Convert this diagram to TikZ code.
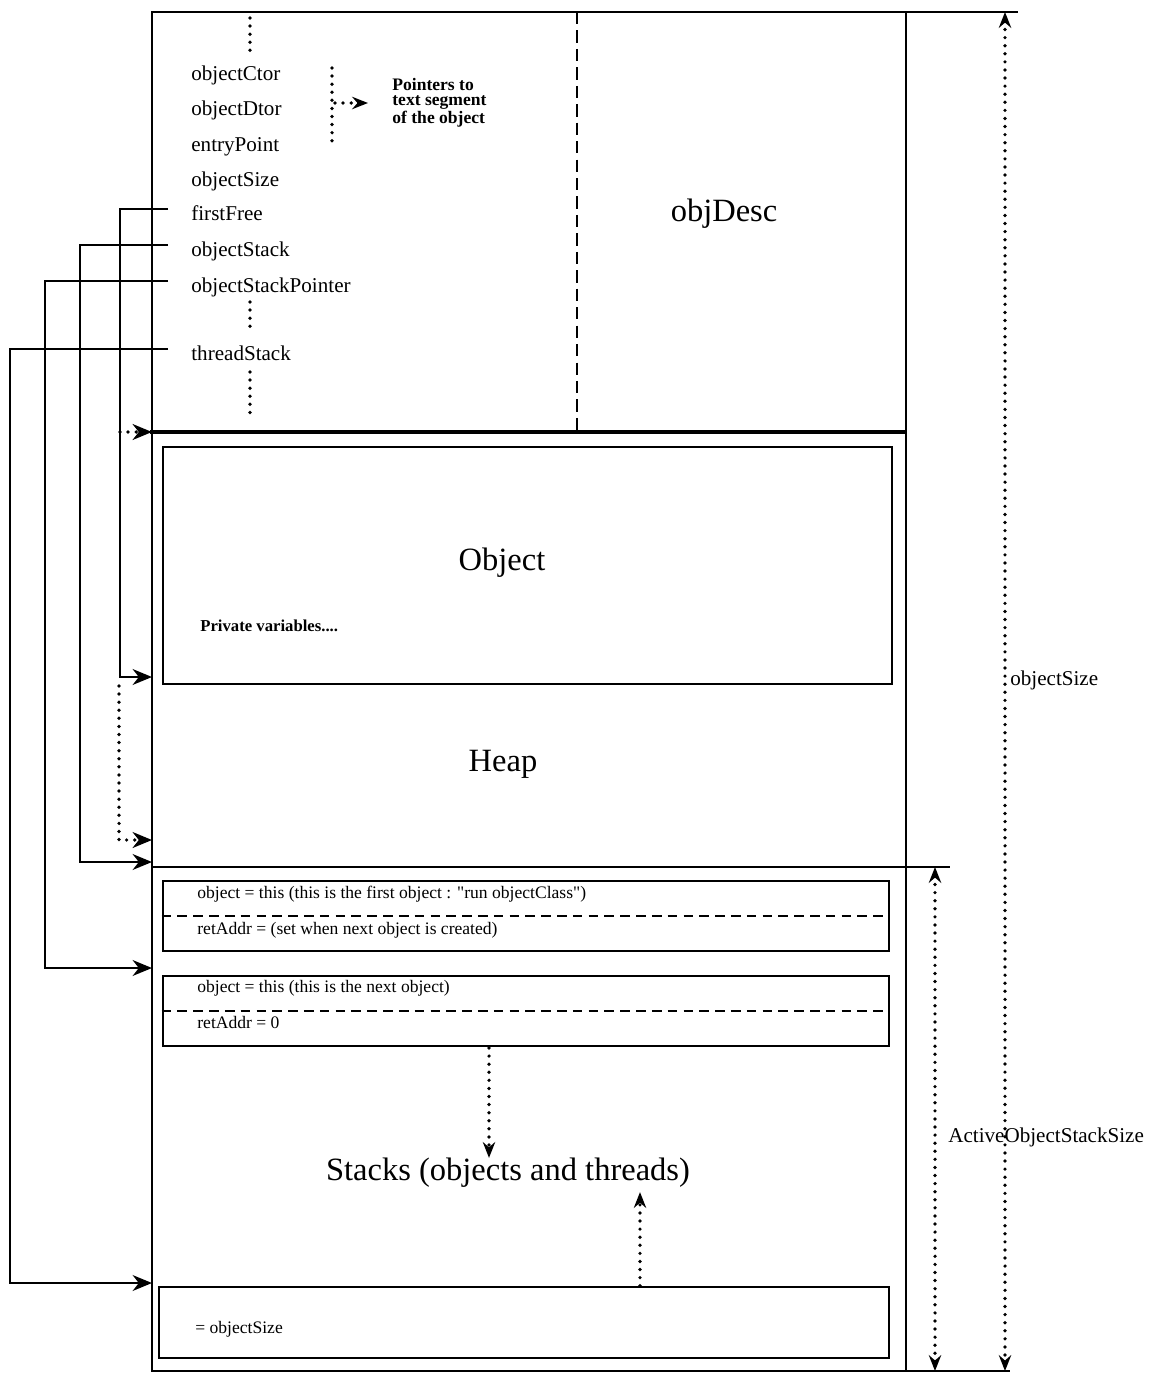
\documentclass[tikz,border=0pt]{standalone}
\usepackage{fontspec}
\setmainfont{Liberation Serif}
\newfontfamily\plainrm{Liberation Serif}
\usetikzlibrary{arrows.meta}
\begin{document}
\begin{tikzpicture}[x=0.02cm,y=-0.02cm,
  frame/.style={line width=1.5pt},
  thickline/.style={line width=2.6pt},
  box/.style={draw, line width=1.5pt, inner sep=0pt},
  fld/.style={anchor=base west, inner sep=0pt, font=\fontsize{12}{14}\selectfont},
  big/.style={inner sep=0pt, font=\fontsize{18.5}{22}\selectfont},
  small/.style={anchor=base west, inner sep=0pt, font=\fontsize{10}{12}\selectfont},
  dimlbl/.style={anchor=base west, inner sep=0pt, font=\fontsize{12}{14}\selectfont},
  dots/.style={line width=2.1pt, dash pattern=on 0pt off 4.6pt, line cap=round},
  sdash/.style={line width=1.3pt, dash pattern=on 5.5pt off 3.5pt},
  vdash/.style={line width=1.4pt, dash pattern=on 7pt off 3.5pt},
  tip/.style={-{Stealth[length=11pt,width=9pt,inset=3.5pt]}},
  smalltip/.style={-{Stealth[length=9pt,width=7pt,inset=3pt]}},
  ptr/.style={line width=1.3pt, tip},
  dimarr/.style={dots, {Stealth[length=9pt,width=7pt,inset=3pt]}-{Stealth[length=9pt,width=7pt,inset=3pt]}}
]
\useasboundingbox (0,0) rectangle (1157,1376);

% outer frame and dividers
\draw[frame] (152,12) rectangle (906,1371);
\draw[frame] (906,12) -- (1018,12);
\draw[frame] (906,1371) -- (1010,1371);
\draw[frame] (152,867) -- (950,867);
\draw[thickline] (150,432) -- (906,432);
\draw[vdash] (577,12) -- (577,432);

% field list
\node[fld] (fCtor)  at (191,80)  {objectCtor};
\node[fld] (fDtor)  at (191,115) {objectDtor};
\node[fld] (fEntry) at (191,151) {entryPoint};
\node[fld] (fSize)  at (191,186) {objectSize};
\node[fld] (fFree)  at (191,220) {firstFree};
\node[fld] (fStack) at (191,256) {objectStack};
\node[fld] (fSP)    at (191,292) {objectStackPointer};
\node[fld] (fThr)   at (191,360) {threadStack};

\draw[dots] (250,18) -- (250,52);
\draw[dots] (250,302) -- (250,332);
\draw[dots] (250,372) -- (250,420);

% pointers to text segment
\node[inner sep=0pt, anchor=west, align=left,
      font=\bfseries\fontsize{10}{8.8}\selectfont] (ptxt) at (392,103)
      {Pointers to\\text segment\\of the object};
\coordinate (brT) at (332,68);
\coordinate (brB) at (332,148);
\coordinate (brM) at (335,103);
\draw[dots] (brT) -- (brB);
\draw[dots, smalltip] (brM) -- ([xshift=-24*0.02cm]ptxt.west);

\node[big] (objdesc) at (724,214) {objDesc};

% object box and heap
\node[box, minimum width=729*0.02cm, minimum height=237*0.02cm] (objbox) at (527.5,565.5) {};
\node[big] (objlbl) at (502,563) {Object};
\node[small, font=\bfseries\fontsize{9.5}{11}\selectfont] (priv) at (200,631) {Private variables....};
\node[big] (heap) at (503,764) {Heap};

% stack frames
\node[box, minimum width=726*0.02cm, minimum height=70*0.02cm] (sf1) at (526,916) {};
\draw[sdash] (sf1.west) -- (sf1.east);
\node[small] (sf1a) at (197,898) {object = this (this is the first object : {\plainrm"}run objectClass{\plainrm"})};
\node[small] (sf1b) at (197,934) {retAddr = (set when next object is created)};

\node[box, minimum width=726*0.02cm, minimum height=70*0.02cm] (sf2) at (526,1011) {};
\draw[sdash] (sf2.west) -- (sf2.east);
\node[small] (sf2a) at (197,992) {object = this (this is the next object)};
\node[small] (sf2b) at (197,1028) {retAddr = 0};

\node[big] (stacks) at (508,1173) {Stacks (objects and threads)};

\node[box, minimum width=730*0.02cm, minimum height=71*0.02cm] (bot) at (524,1322.5) {};
\node[small] (botlbl) at (195,1333) {= objectSize};

\draw[dots, smalltip] (489,1048) -- (stacks.north -| 489,0);
\draw[dots, smalltip] (bot.north -| 640,0) -- ([yshift=-4*0.02cm]stacks.south -| 640,0);

% pointer connectors
\coordinate (tFree)  at (152,677);
\coordinate (tFree2) at (152,432);
\coordinate (tFree3) at (152,840);
\coordinate (tStack) at (152,862);
\coordinate (tSP)    at (152,968);
\coordinate (tThr)   at (152,1283);

\draw[ptr] (fFree.base west)  ++(-23,-11) -- ++(-48,0) |- (tFree);
\draw[ptr] (fStack.base west) ++(-23,-11) -- ++(-88,0) |- (tStack);
\draw[ptr] (fSP.base west)    ++(-23,-11) -- ++(-123,0) |- (tSP);
\draw[ptr] (fThr.base west)   ++(-23,-11) -- ++(-158,0) |- (tThr);

\draw[dots, tip] (120,432) -- (tFree2);
\draw[dots, tip] (119,686) |- (tFree3);

% dimensions
\coordinate (dTop) at (1005,12);
\coordinate (dBot) at (1005,1371);
\coordinate (aTop) at (935,867);
\coordinate (aBot) at (935,1371);
\draw[dimarr] (dTop) -- (dBot);
\draw[dimarr] (aTop) -- (aBot);
\node[dimlbl] (dlbl) at (1010,685) {objectSize};
\node[dimlbl] (albl) at (948,1142) {ActiveObjectStackSize};
\end{tikzpicture}
\end{document}
